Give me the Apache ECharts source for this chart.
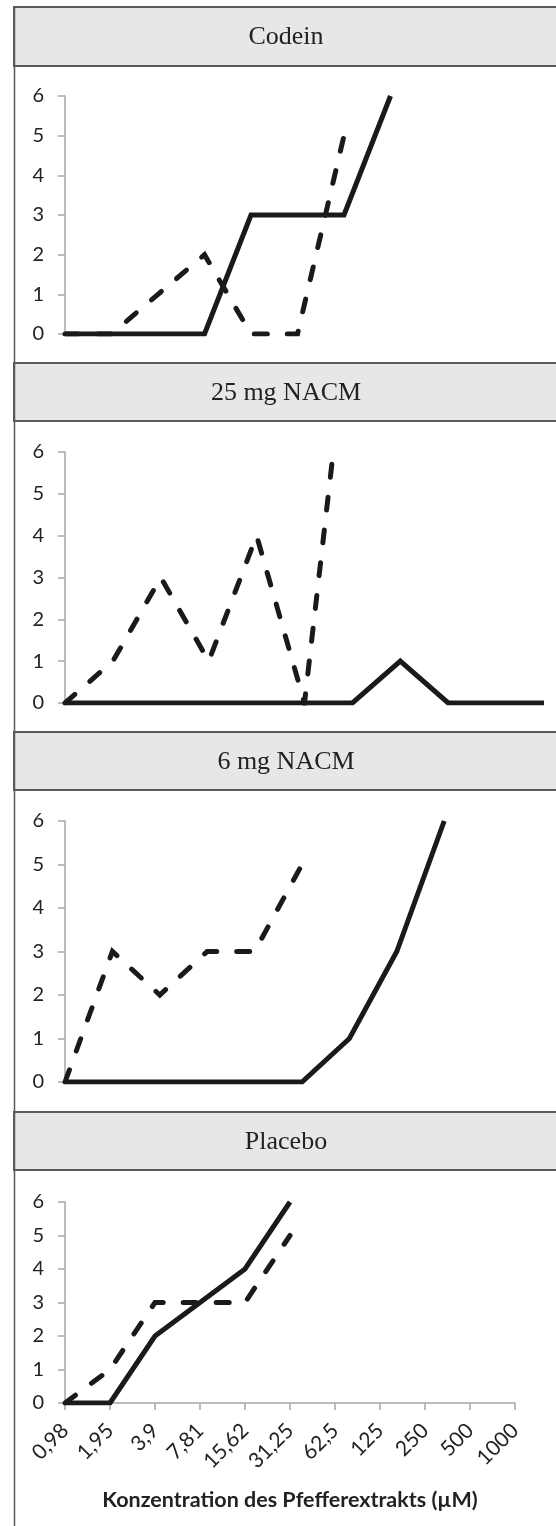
<!DOCTYPE html>
<html>
<head>
<meta charset="utf-8">
<script src="https://cdn.jsdelivr.net/npm/echarts@6/dist/echarts.min.js"></script>
<style>
html,body{margin:0;padding:0;background:#fff;}
#chart{width:556px;height:1526px;}
</style>
</head>
<body>
<div id="chart"></div>
<script>
// ---- data ----
const categories = ['0,98','1,95','3,9','7,81','15,62','31,25','62,5','125','250','500','1000'];
const panelTitles = ['Codein','25 mg NACM','6 mg NACM','Placebo'];
const yTicks = [0,1,2,3,4,5,6];
const codeinSolid  = [0,0,0,0,3,3,3,6];
const codeinDashed = [0,0,1,2,0,0,5];
const nacm25Solid  = [0,0,0,0,0,0,0,1,0,0,0];
const nacm25Dashed = [0,1,3,1,4,0,10];
const nacm6Solid   = [0,0,0,0,0,0,1,3,6];
const nacm6Dashed  = [0,3,2,3,3,5];
const placeboSolid  = [0,0,2,3,4,6];
const placeboDashed = [0,1,3,3,3,5];
const xAxisTitle = 'Konzentration des Pfefferextrakts (µM)';

const solidSets = [codeinSolid, nacm25Solid, nacm6Solid, placeboSolid];
const dashedSets = [codeinDashed, nacm25Dashed, nacm6Dashed, placeboDashed];

// ---- layout ----
const W = 556, H = 1526;
const grids = [
  {left:65, right:W-530, top:96,  bottom:H-334},
  {left:65, right:W-544, top:452, bottom:H-703},
  {left:65, right:W-539, top:821, bottom:H-1082},
  {left:65, right:W-515, top:1202,bottom:H-1403}
];
const headers = [[7,66],[363,421],[732,790],[1112,1170]];

const LINE = '#1a1a1a';
const AXIS = '#a6a6a6';
const labelFont = 'Lato, "Open Sans", sans-serif';

const xAxes = grids.map((g,i)=>{
  const last = i===3;
  return {
    gridIndex:i, type:'category', data:categories, boundaryGap:false,
    axisLine:{show:last, lineStyle:{color:AXIS, width:1.5}},
    axisTick:{show:last, length:7, lineStyle:{color:AXIS, width:1.5}},
    axisLabel:{show:last, rotate:45, margin:24, fontSize:21, color:'#222', fontFamily:labelFont, interval:0},
    splitLine:{show:false},
    name: last ? xAxisTitle : '',
    nameLocation:'middle', nameGap:86,
    nameTextStyle:{fontSize:21.5, fontWeight:'bold', color:'#222', fontFamily:labelFont}
  };
});
const yAxes = grids.map((g,i)=>({
  gridIndex:i, type:'value', min:yTicks[0], max:yTicks[yTicks.length-1], interval:1,
  axisLine:{show:true, lineStyle:{color:AXIS, width:1.5}},
  axisTick:{show:true, length:7, lineStyle:{color:AXIS, width:1.5}},
  axisLabel:{margin:21, fontSize:20, color:'#222', fontFamily:labelFont},
  splitLine:{show:false}
}));

const series = [];
for (let i=0;i<4;i++){
  series.push({
    type:'line', xAxisIndex:i, yAxisIndex:i, data:dashedSets[i], symbol:'none',
    clip:true, lineStyle:{color:LINE, width:5, type:[13,20], cap:'round', join:'miter'}, z:2
  });
  series.push({
    type:'line', xAxisIndex:i, yAxisIndex:i, data:solidSets[i], symbol:'none',
    clip:true, lineStyle:{color:LINE, width:5, type:'solid', join:'miter'}, z:3
  });
}

const graphics = [];
headers.forEach((h,i)=>{
  graphics.push({type:'rect', shape:{x:14, y:h[0], width:W-14+4, height:h[1]-h[0]},
    style:{fill:'#e6e7e8', stroke:'#595959', lineWidth:2}, z:-1});
  graphics.push({type:'text', x:286, y:(h[0]+h[1])/2+1,
    style:{text:panelTitles[i], font:'26px "Liberation Serif", "Times New Roman", serif',
      fill:'#222', textAlign:'center', textVerticalAlign:'middle'}, z:1});
});
graphics.push({type:'line', shape:{x1:14.5, y1:7, x2:14.5, y2:H}, style:{stroke:'#595959', lineWidth:1.5}, z:0});

const chart = echarts.init(document.getElementById('chart'), null, {renderer:'canvas'});
chart.setOption({
  animation:false,
  backgroundColor:'#ffffff',
  grid:grids,
  xAxis:xAxes,
  yAxis:yAxes,
  series:series,
  graphic:graphics
});
</script>
</body>
</html>
